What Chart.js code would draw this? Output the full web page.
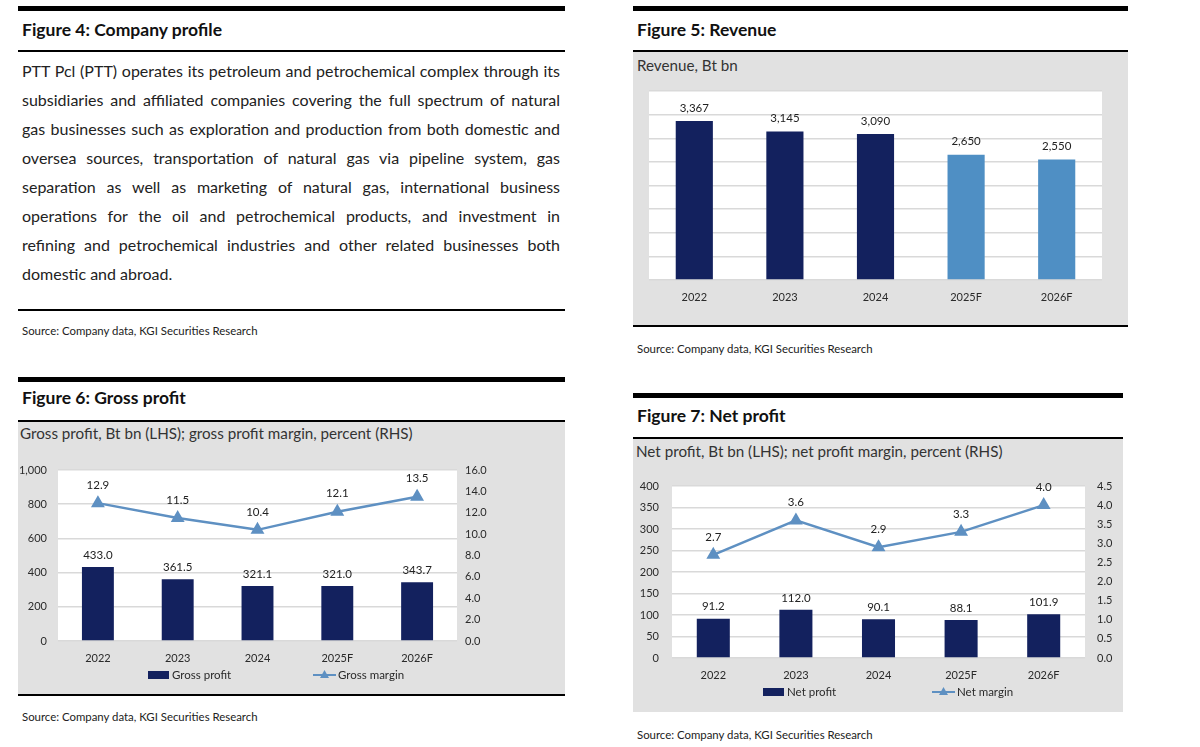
<!DOCTYPE html>
<html>
<head>
<meta charset="utf-8">
<script src="https://cdn.jsdelivr.net/npm/chart.js@4.4.0/dist/chart.umd.min.js"></script>
<style>
  body { margin:0; width:1200px; height:747px; background:#fff; position:relative; overflow:hidden;
         font-family: Lato, "Open Sans", sans-serif; color:#1a1a1a; }
  .thick { position:absolute; background:#000; height:5px; }
  .rule  { position:absolute; background:#000; height:2px; }
  .ttl   { position:absolute; font-weight:bold; font-size:17.5px; line-height:20px; color:#111; }
  .src   { position:absolute; font-size:11.4px; line-height:14px; color:#222; }
  .panel { position:absolute; background:#e1e1e1; }
  .sub   { position:absolute; font-size:15.2px; line-height:18px; color:#333; }
  .para  { position:absolute; left:22px; top:56px; width:538px; font-size:16px; line-height:29px; color:#222; }
  .para div { text-align:justify; text-align-last:justify; }
  .para div.last { text-align-last:left; }
  canvas { position:absolute; }
</style>
</head>
<body>

<!-- Figure 4 -->
<div class="thick" style="left:18px;top:6px;width:547px"></div>
<div class="ttl" style="left:22px;top:20px">Figure 4: Company profile</div>
<div class="rule" style="left:18px;top:50px;width:547px"></div>
<div class="para">
  <div>PTT Pcl (PTT) operates its petroleum and petrochemical complex through its</div>
  <div>subsidiaries and affiliated companies covering the full spectrum of natural</div>
  <div>gas businesses such as exploration and production from both domestic and</div>
  <div>oversea sources, transportation of natural gas via pipeline system, gas</div>
  <div>separation as well as marketing of natural gas, international business</div>
  <div>operations for the oil and petrochemical products, and investment in</div>
  <div>refining and petrochemical industries and other related businesses both</div>
  <div class="last">domestic and abroad.</div>
</div>
<div class="rule" style="left:18px;top:309px;width:547px"></div>
<div class="src" style="left:22px;top:324px">Source: Company data, KGI Securities Research</div>

<!-- Figure 5 -->
<div class="thick" style="left:633px;top:6px;width:495px"></div>
<div class="ttl" style="left:637px;top:20px">Figure 5: Revenue</div>
<div class="rule" style="left:633px;top:50px;width:495px"></div>
<div class="panel" style="left:633px;top:52px;width:495px;height:274px"></div>
<div class="sub" style="left:637px;top:56px">Revenue, Bt bn</div>
<canvas id="revChart" width="495" height="240" style="left:633px;top:80px"></canvas>
<div class="rule" style="left:633px;top:325px;width:495px;height:1.5px"></div>
<div class="src" style="left:637px;top:342px">Source: Company data, KGI Securities Research</div>

<!-- Figure 6 -->
<div class="thick" style="left:18px;top:377px;width:547px"></div>
<div class="ttl" style="left:22px;top:388px">Figure 6: Gross profit</div>
<div class="rule" style="left:18px;top:420px;width:547px"></div>
<div class="panel" style="left:18px;top:422px;width:547px;height:272px"></div>
<div class="sub" style="left:20px;top:424px">Gross profit, Bt bn (LHS); gross profit margin, percent (RHS)</div>
<canvas id="gpChart" width="547" height="242" style="left:18px;top:450px"></canvas>
<div class="rule" style="left:18px;top:694px;width:547px"></div>
<div class="src" style="left:22px;top:710px">Source: Company data, KGI Securities Research</div>

<!-- Figure 7 -->
<div class="thick" style="left:633px;top:393px;width:490px"></div>
<div class="ttl" style="left:637px;top:406px">Figure 7: Net profit</div>
<div class="rule" style="left:633px;top:437px;width:490px"></div>
<div class="panel" style="left:633px;top:439px;width:490px;height:273px"></div>
<div class="sub" style="left:636px;top:442px">Net profit, Bt bn (LHS); net profit margin, percent (RHS)</div>
<canvas id="npChart" width="490" height="244" style="left:633px;top:466px"></canvas>
<div class="src" style="left:637px;top:728px">Source: Company data, KGI Securities Research</div>

<script>
// data
const years = ['2022', '2023', '2024', '2025F', '2026F'];
const revenue = [3367, 3145, 3090, 2650, 2550];
const revenueColors = ['#13215e', '#13215e', '#13215e', '#4f8fc4', '#4f8fc4'];
const grossProfit = [433.0, 361.5, 321.1, 321.0, 343.7];
const grossMargin = [12.9, 11.5, 10.4, 12.1, 13.5];
const netProfit = [91.2, 112.0, 90.1, 88.1, 101.9];
const netMargin = [2.7, 3.6, 2.9, 3.3, 4.0];

const NAVY = '#13215e';
const LINE_BLUE = '#5e90c2';
const TXT = '#2a2a2a';
const FONT = 'Lato, "Open Sans", sans-serif';

// white plotting area behind the grid
const whiteArea = {
  id: 'whiteArea',
  beforeDraw(chart) {
    const a = chart.chartArea, ctx = chart.ctx;
    ctx.save();
    ctx.fillStyle = '#fff';
    ctx.fillRect(a.left, a.top, a.right - a.left, a.bottom - a.top);
    ctx.restore();
  }
};

// value labels above each bar / point
const valueLabels = {
  id: 'valueLabels',
  afterDatasetsDraw(chart) {
    const ctx = chart.ctx;
    chart.data.datasets.forEach((ds, i) => {
      const meta = chart.getDatasetMeta(i);
      ctx.save();
      ctx.font = '11.5px ' + FONT;
      ctx.fillStyle = '#222';
      ctx.textAlign = 'center';
      ctx.textBaseline = 'middle';
      meta.data.forEach((el, j) => {
        ctx.fillText(ds.fmt(ds.data[j]), el.x, el.y - ds.labelOffset);
      });
      ctx.restore();
    });
  }
};

// legend drawn under the x labels
const customLegend = {
  id: 'customLegend',
  afterDraw(chart) {
    const opts = chart.options.plugins.customLegend;
    if (!opts) return;
    const ctx = chart.ctx;
    ctx.save();
    ctx.font = '11.5px ' + FONT;
    ctx.fillStyle = TXT;
    ctx.textBaseline = 'middle';
    opts.items.forEach(it => {
      if (it.type === 'bar') {
        ctx.fillStyle = NAVY;
        ctx.fillRect(it.x, opts.y - 4, 21, 8);
        ctx.fillStyle = TXT;
        ctx.fillText(it.text, it.x + 24, opts.y);
      } else {
        ctx.strokeStyle = LINE_BLUE;
        ctx.lineWidth = 2;
        ctx.beginPath();
        ctx.moveTo(it.x, opts.y);
        ctx.lineTo(it.x + 23, opts.y);
        ctx.stroke();
        ctx.fillStyle = LINE_BLUE;
        ctx.beginPath();
        ctx.moveTo(it.x + 11.5, opts.y - 5);
        ctx.lineTo(it.x + 16, opts.y + 3);
        ctx.lineTo(it.x + 7, opts.y + 3);
        ctx.closePath();
        ctx.fill();
        ctx.fillStyle = TXT;
        ctx.fillText(it.text, it.x + 25, opts.y);
      }
    });
    ctx.restore();
  }
};

const fmtComma = v => v.toLocaleString('en-US');
const fmt1 = v => v.toFixed(1);

function xAxis(height) {
  return {
    grid: { display: false, drawTicks: false },
    border: { display: false },
    ticks: { color: TXT, font: { family: FONT, size: 11 }, padding: 11 },
    afterFit(s) { s.height = height; }
  };
}

function yAxis(pos, min, max, step, width, pad, fmt, grid) {
  return {
    position: pos, min: min, max: max,
    grid: { display: grid, drawOnChartArea: grid, drawTicks: false, color: '#d9d9d9', lineWidth: 1.5 },
    border: { display: false },
    ticks: { stepSize: step, color: TXT, font: { family: FONT, size: 11 }, padding: pad,
             callback: v => fmt(v) },
    afterFit(s) { s.width = width; }
  };
}

Chart.defaults.animation = false;

// Figure 5 - revenue
new Chart(document.getElementById('revChart'), {
  type: 'bar',
  data: {
    labels: years,
    datasets: [{
      data: revenue, backgroundColor: revenueColors,
      categoryPercentage: 1, barPercentage: 0.41,
      fmt: fmtComma, labelOffset: 13
    }]
  },
  options: {
    responsive: false,
    layout: { padding: { top: 11, right: 26, left: 0, bottom: 0 } },
    plugins: { legend: { display: false }, tooltip: { enabled: false } },
    scales: {
      x: xAxis(40),
      y: Object.assign(yAxis('left', 0, 4000, 500, 16, 0, fmtComma, true),
                       { ticks: { display: false, stepSize: 500 } })
    }
  },
  plugins: [whiteArea, valueLabels]
});

// Figure 6 - gross profit
new Chart(document.getElementById('gpChart'), {
  type: 'bar',
  data: {
    labels: years,
    datasets: [
      { type: 'line', label: 'Gross margin', data: grossMargin, yAxisID: 'y1', order: 0,
        borderColor: LINE_BLUE, borderWidth: 2.5, backgroundColor: LINE_BLUE,
        pointStyle: 'triangle', pointRadius: 5.5, pointBackgroundColor: LINE_BLUE,
        fmt: fmt1, labelOffset: 18 },
      { label: 'Gross profit', data: grossProfit, yAxisID: 'y', order: 1,
        backgroundColor: NAVY, categoryPercentage: 1, barPercentage: 0.4,
        fmt: fmt1, labelOffset: 12 }
    ]
  },
  options: {
    responsive: false,
    layout: { padding: { top: 20, right: 68, left: 0, bottom: 0 } },
    plugins: {
      legend: { display: false }, tooltip: { enabled: false },
      customLegend: { y: 225, items: [
        { type: 'bar', text: 'Gross profit', x: 130 },
        { type: 'line', text: 'Gross margin', x: 295 }
      ] }
    },
    scales: {
      x: xAxis(51),
      y: yAxis('left', 0, 1000, 200, 40, 11, fmtComma, true),
      y1: yAxis('right', 0, 16, 2, 40, 8, fmt1, false)
    }
  },
  plugins: [whiteArea, valueLabels, customLegend]
});

// Figure 7 - net profit
new Chart(document.getElementById('npChart'), {
  type: 'bar',
  data: {
    labels: years,
    datasets: [
      { type: 'line', label: 'Net margin', data: netMargin, yAxisID: 'y1', order: 0,
        borderColor: LINE_BLUE, borderWidth: 2.5, backgroundColor: LINE_BLUE,
        pointStyle: 'triangle', pointRadius: 5.5, pointBackgroundColor: LINE_BLUE,
        fmt: fmt1, labelOffset: 18 },
      { label: 'Net profit', data: netProfit, yAxisID: 'y', order: 1,
        backgroundColor: NAVY, categoryPercentage: 1, barPercentage: 0.4,
        fmt: fmt1, labelOffset: 12 }
    ]
  },
  options: {
    responsive: false,
    layout: { padding: { top: 20, right: 0, left: 0, bottom: 0 } },
    plugins: {
      legend: { display: false }, tooltip: { enabled: false },
      customLegend: { y: 226, items: [
        { type: 'bar', text: 'Net profit', x: 130 },
        { type: 'line', text: 'Net margin', x: 299 }
      ] }
    },
    scales: {
      x: xAxis(52),
      y: yAxis('left', 0, 400, 50, 39, 13, fmtComma, true),
      y1: yAxis('right', 0, 4.5, 0.5, 38, 12, fmt1, false)
    }
  },
  plugins: [whiteArea, valueLabels, customLegend]
});
</script>
</body>
</html>
